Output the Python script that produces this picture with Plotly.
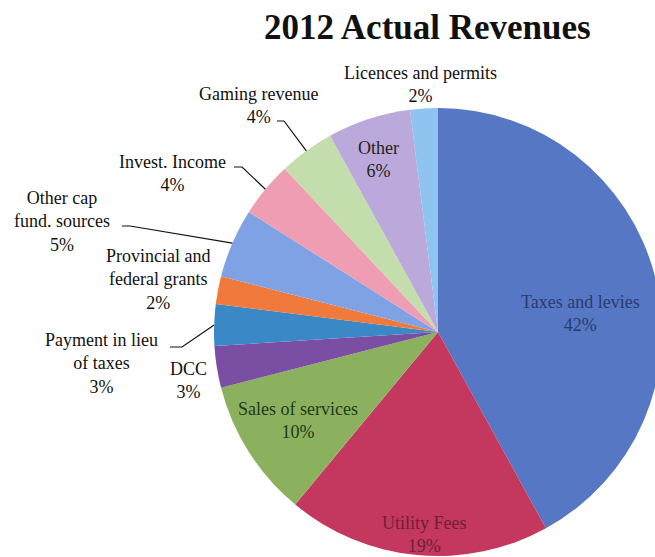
import math
import plotly.graph_objects as go

# Revenue categories, in clockwise order from 12 o'clock
categories = [
    "Taxes and levies", "Utility Fees", "Sales of services", "DCC",
    "Payment in lieu of taxes", "Provincial and federal grants",
    "Other cap fund. sources", "Invest. Income", "Gaming revenue",
    "Other", "Licences and permits",
]
shares = [42, 19, 10, 3, 3, 2, 5, 4, 4, 6, 2]
colors = [
    "#5677c4", "#c4375f", "#8cb15e", "#7a4fa3", "#3b88c6", "#ef7a3c",
    "#7fa2e4", "#ef9db3", "#c4ddad", "#bca9db", "#8ec4ef",
]

# Label text (line-broken) and text colour for each slice
label_lines = [
    "Taxes and levies", "Utility Fees", "Sales of services", "DCC",
    "Payment in lieu<br>of taxes", "Provincial and<br>federal grants",
    "Other cap<br>fund. sources", "Invest. Income", "Gaming revenue",
    "Other", "Licences and permits",
]
label_colors = [
    "#2b3b6e", "#6b2236", "#1f3a1c", "#111", "#111", "#111",
    "#111", "#111", "#111", "#222", "#111",
]

# Canvas and pie geometry (pixels)
W, H = 680, 557
CX, CY, R = 438, 332, 224

# Label block centres (pixels, top-left origin)
label_pos = [
    (580, 313), (424, 534), (298, 420), (188, 380),
    (101, 363), (158, 279), (62, 221), (172, 173),
    (258, 105), (378, 160), (420, 84),
]
# Labels joined to their slice by a leader line: (start x, start y, elbow x)
leaders = {
    4: (170, 347, 182),
    6: (122, 226, 130),
    7: (234, 167, 242),
    8: (277, 121, 284),
}


def px(x):
    return x / W


def py(y):
    return 1 - y / H


fig = go.Figure(
    go.Pie(
        labels=categories,
        values=shares,
        sort=False,
        direction="clockwise",
        rotation=0,
        marker=dict(colors=colors, line=dict(width=0)),
        textinfo="none",
        hoverinfo="label+percent",
        showlegend=False,
        domain=dict(x=[px(CX - R), px(CX + R)], y=[py(CY + R), py(CY - R)]),
    )
)

total = sum(shares)
annotations = []
shapes = []
cum = 0
for i, v in enumerate(shares):
    mid = (cum + v / 2) / total * 2 * math.pi
    cum += v
    lx, ly = label_pos[i]
    annotations.append(
        dict(
            x=px(lx), y=py(ly), xref="paper", yref="paper",
            xanchor="center", yanchor="middle",
            text=f"{label_lines[i]}<br>{v}%",
            showarrow=False,
            font=dict(family="Liberation Serif", size=18, color=label_colors[i]),
            align="center",
        )
    )
    if i in leaders:
        sx, sy, ex = leaders[i]
        tx = CX + R * math.sin(mid)
        ty = CY - R * math.cos(mid)
        shapes.append(
            dict(
                type="path", xref="paper", yref="paper",
                path=f"M {px(sx)},{py(sy)} L {px(ex)},{py(sy)} L {px(tx)},{py(ty)}",
                line=dict(color="#111", width=1.2),
            )
        )

annotations.append(
    dict(
        x=px(427), y=py(27), xref="paper", yref="paper",
        xanchor="center", yanchor="middle",
        text="<b>2012 Actual Revenues</b>", showarrow=False,
        font=dict(family="Liberation Serif", size=35, color="#111"),
    )
)

fig.update_layout(
    width=W, height=H,
    margin=dict(l=0, r=0, t=0, b=0),
    paper_bgcolor="white",
    plot_bgcolor="white",
    annotations=annotations,
    shapes=shapes,
)

fig.write_html(
    "out.html",
    post_script="document.body.style.overflow='hidden';document.documentElement.style.overflow='hidden';",
)
